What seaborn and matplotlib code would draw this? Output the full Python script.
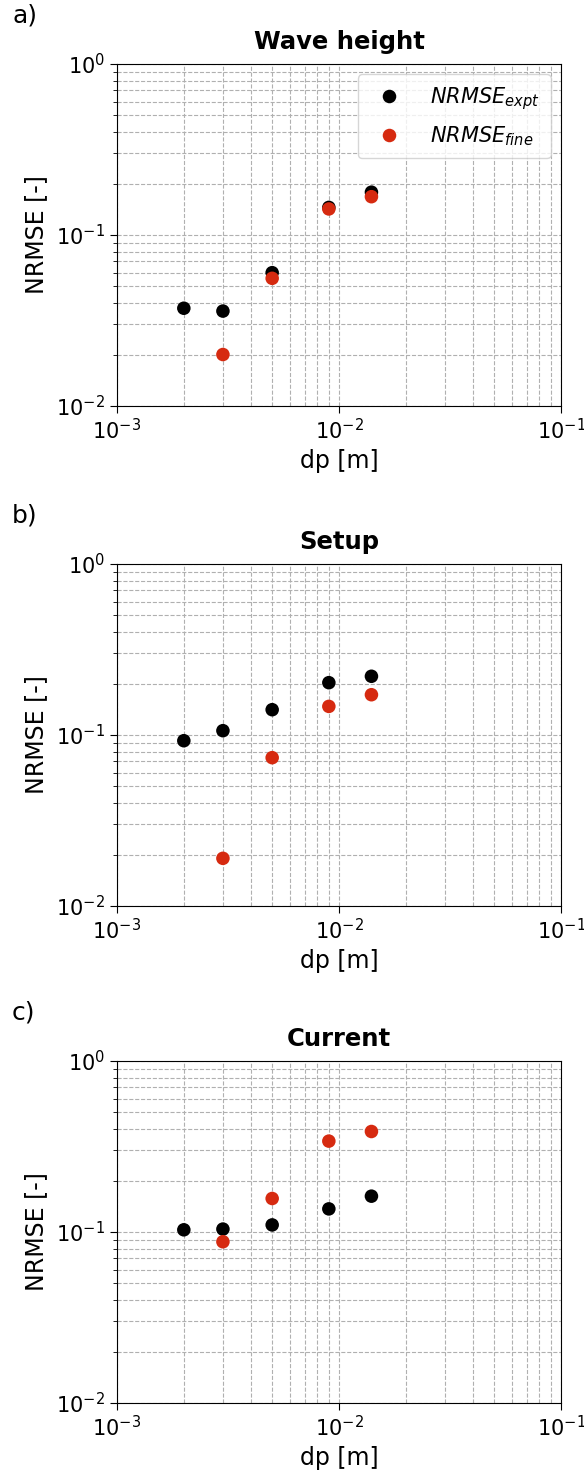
import numpy as np
import pandas as pd
import matplotlib
matplotlib.use("Agg")
import matplotlib.pyplot as plt
import seaborn as sns
from matplotlib.ticker import LogLocator, NullFormatter

# Particle spacing dp [m] for each simulation
dp_expt = [0.002, 0.003, 0.005, 0.009, 0.014]
dp_fine = [0.003, 0.005, 0.009, 0.014]

# NRMSE against experiment and against the finest resolution
wave_expt = [0.0373, 0.0359, 0.0602, 0.145, 0.178]
wave_fine = [0.0200, 0.0558, 0.142, 0.1675]

setup_expt = [0.0926, 0.106, 0.1406, 0.2023, 0.2205]
setup_fine = [0.0190, 0.0737, 0.147, 0.172]

current_expt = [0.103, 0.104, 0.110, 0.1365, 0.162]
current_fine = [0.0877, 0.157, 0.340, 0.387]

titles = ["Wave height", "Setup", "Current"]
panel_tags = ["a)", "b)", "c)"]
series_labels = [r"$NRMSE_{expt}$", r"$NRMSE_{fine}$"]

panels = [
    (wave_expt, wave_fine),
    (setup_expt, setup_fine),
    (current_expt, current_fine),
]

palette = {series_labels[0]: "#000000", series_labels[1]: "#d62a10"}

fig = plt.figure(figsize=(5.84, 14.79), dpi=100)
W, H = 584, 1479
ax_left, ax_width, ax_height = 117 / W, 444 / W, 342 / H
ax_bottoms = [1 - 406 / H, 1 - 906 / H, 1 - 1403 / H]

for i, ((e_vals, f_vals), title, tag, bottom) in enumerate(
        zip(panels, titles, panel_tags, ax_bottoms)):
    ax = fig.add_axes([ax_left, bottom, ax_width, ax_height])
    df = pd.DataFrame({
        "dp": dp_expt + dp_fine,
        "nrmse": e_vals + f_vals,
        "series": [series_labels[0]] * len(dp_expt) + [series_labels[1]] * len(dp_fine),
    })
    sns.scatterplot(data=df, x="dp", y="nrmse", hue="series", palette=palette,
                    s=95, linewidth=0, ax=ax, legend=(i == 0), zorder=3)
    ax.set_xscale("log")
    ax.set_yscale("log")
    ax.set_xlim(1e-3, 1e-1)
    ax.set_ylim(1e-2, 1e0)
    ax.yaxis.set_minor_locator(LogLocator(base=10, subs=np.arange(2, 10)))
    ax.xaxis.set_minor_locator(LogLocator(base=10, subs=np.arange(2, 10)))
    ax.yaxis.set_minor_formatter(NullFormatter())
    ax.xaxis.set_minor_formatter(NullFormatter())
    ax.tick_params(axis="x", which="minor", length=0)
    ax.tick_params(axis="both", which="major", labelsize=15, length=5)
    ax.tick_params(axis="y", which="minor", length=3)
    ax.grid(True, which="both", linestyle="--", color="#b0b0b0", linewidth=0.8)
    ax.set_axisbelow(True)
    ax.set_xlabel("dp [m]", fontsize=17, labelpad=4)
    ax.set_ylabel("NRMSE [-]", fontsize=17, labelpad=6)
    ax.set_title(title, fontsize=17.5, fontweight="bold", pad=11)
    fig.text(12 / W, bottom + ax_height + 36 / H, tag, fontsize=18,
             ha="left", va="bottom")
    if i == 0:
        ax.legend(loc="upper right", fontsize=15, title=None, framealpha=0.8,
                  markerscale=1.0, handletextpad=1.0, borderpad=0.5,
                  labelspacing=0.6)

fig.savefig("out.png", dpi=100)
